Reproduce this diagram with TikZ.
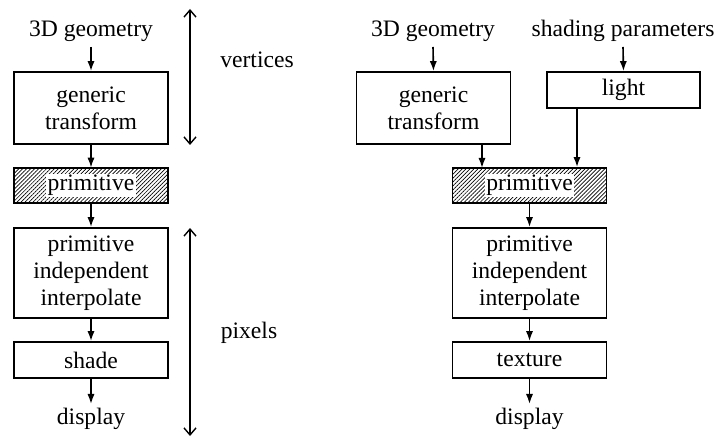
\documentclass[tikz,border=0pt]{standalone}
\usepackage{fontspec}
\setmainfont{Liberation Serif}
\usetikzlibrary{arrows.meta, patterns.meta}

\tikzset{
  stage/.style={draw, line width=0.9pt, inner sep=0pt, minimum width=77pt, align=center},
  hatched/.style={stage, pattern={Lines[angle=45, distance=1.4pt, line width=0.35pt]}},
  flow/.style={line width=0.8pt, -{Latex[length=5pt, width=3.6pt]}},
  span/.style={line width=0.7pt, {Straight Barb[length=3.5pt, width=6pt]}-{Straight Barb[length=3.5pt, width=6pt]}}
}

\begin{document}
\begin{tikzpicture}[x=0.5pt, y=-0.5pt, font=\fontsize{11.8}{13.6}\selectfont]
    \useasboundingbox (0,0) rectangle (716,437);

    % left pipeline
    \node (geoA) at (91,31) {3D geometry};
    \node[stage, minimum height=36pt] (xformA) at (91,108) {generic\\transform};
    \node[hatched, minimum height=17.5pt] (primA) at (91,185.5) {};
    \node[fill=white, inner sep=0.8pt] at (primA) {primitive};
    \node[stage, minimum height=45pt] (interpA) at (91,273) {primitive\\independent\\interpolate};
    \node[stage, minimum height=18pt] (shade) at (91,360) {shade};
    \node (dispA) at (91,419) {display};
    \coordinate (dispAtop) at (91,404);

    \draw[flow] (geoA.south |- 0,47) -- (xformA.north);
    \draw[flow] (xformA) -- (primA);
    \draw[flow] (primA) -- (interpA);
    \draw[flow] (interpA) -- (shade);
    \draw[flow] (shade.south) -- (dispAtop);

    % ranges
    \coordinate (vtop) at (190,9);
    \coordinate (vbot) at (190,145);
    \coordinate (ptop) at (190,228);
    \coordinate (pbot) at (190,436);
    \draw[span] (vtop) -- (vbot);
    \draw[span] (ptop) -- (pbot);
    \node (vert) at (257,60) {vertices};
    \node (pix) at (249,333) {pixels};

    % right pipeline
    \node (geoB) at (433,31) {3D geometry};
    \node (param) at (623,31) {shading parameters};
    \node[stage, minimum height=36pt] (xformB) at (433.5,108) {generic\\transform};
    \node[stage, minimum width=76.5pt, minimum height=18pt] (light) at (623.5,90) {light};
    \node[hatched, minimum height=17.5pt] (primB) at (529.5,185.5) {};
    \node[fill=white, inner sep=0.8pt] at (primB) {primitive};
    \node[stage, minimum height=45pt] (interpB) at (529.5,273) {primitive\\independent\\interpolate};
    \node[stage, minimum height=18pt] (texture) at (529.5,360) {texture};
    \node (dispB) at (529.5,419) {display};
    \coordinate (dispBtop) at (529.5,404);
    \coordinate (geoBfoot) at (433,47);
    \coordinate (paramfoot) at (623,47);

    \draw[flow] (geoBfoot) -- (xformB.north);
    \draw[flow] (paramfoot) -- (light.north);
    \draw[flow] (482,144) -- (482,168);
    \draw[flow] (light.south -| 577,0) -- (primB.north -| 577,0);
    \draw[flow] (primB) -- (interpB);
    \draw[flow] (interpB) -- (texture);
    \draw[flow] (texture.south) -- (dispBtop);
  \end{tikzpicture}
\end{document}
